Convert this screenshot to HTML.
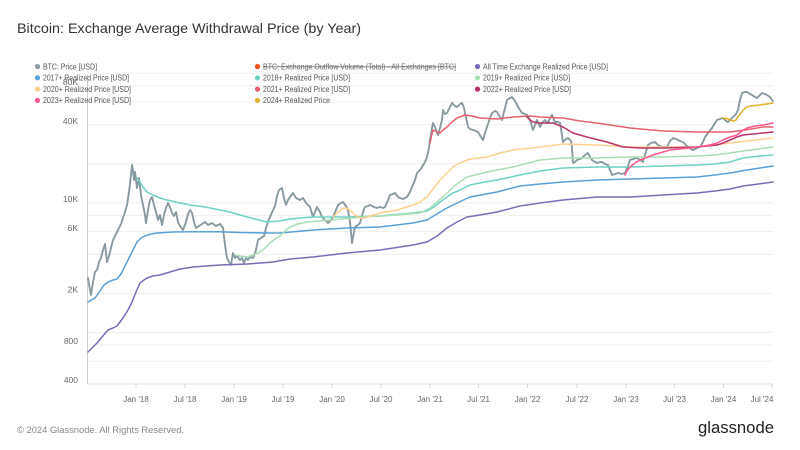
<!DOCTYPE html>
<html>
<head>
<meta charset="utf-8">
<style>
  html,body{margin:0;padding:0;background:#fff;}
  svg{display:block;}
  text{font-family:"Liberation Sans",Arial,sans-serif;}
</style>
</head>
<body>
<svg width="800" height="450" viewBox="0 0 800 450" xmlns="http://www.w3.org/2000/svg">
  <rect x="0" y="0" width="800" height="450" fill="#ffffff"/>

  <!-- Title -->
  <text x="17" y="33" font-size="14" fill="#333" textLength="344" lengthAdjust="spacingAndGlyphs">Bitcoin: Exchange Average Withdrawal Price (by Year)</text>

  <!-- Gridlines -->
  <g stroke="#efefef" stroke-width="1">
    <line x1="88" y1="73.2" x2="773" y2="73.2"/>
    <line x1="88" y1="85.8" x2="773" y2="85.8"/>
    <line x1="88" y1="102" x2="773" y2="102"/>
    <line x1="88" y1="124.8" x2="773" y2="124.8"/>
    <line x1="88" y1="163.8" x2="773" y2="163.8"/>
    <line x1="88" y1="202.8" x2="773" y2="202.8"/>
    <line x1="88" y1="215.4" x2="773" y2="215.4"/>
    <line x1="88" y1="231.6" x2="773" y2="231.6"/>
    <line x1="88" y1="254.4" x2="773" y2="254.4"/>
    <line x1="88" y1="293.4" x2="773" y2="293.4"/>
    <line x1="88" y1="332.4" x2="773" y2="332.4"/>
    <line x1="88" y1="345" x2="773" y2="345"/>
    <line x1="88" y1="361.2" x2="773" y2="361.2"/>
  </g>

  <!-- Axes -->
  <line x1="87.5" y1="75" x2="87.5" y2="384" stroke="#d0d0d0" stroke-width="1"/>
  <line x1="87.5" y1="384" x2="773" y2="384" stroke="#e3e3e3" stroke-width="1"/>
  <g stroke="#d8d8d8" stroke-width="1">
    <line x1="136" y1="384" x2="136" y2="388"/>
    <line x1="185" y1="384" x2="185" y2="388"/>
    <line x1="234" y1="384" x2="234" y2="388"/>
    <line x1="283" y1="384" x2="283" y2="388"/>
    <line x1="332" y1="384" x2="332" y2="388"/>
    <line x1="381" y1="384" x2="381" y2="388"/>
    <line x1="430" y1="384" x2="430" y2="388"/>
    <line x1="478.5" y1="384" x2="478.5" y2="388"/>
    <line x1="527.5" y1="384" x2="527.5" y2="388"/>
    <line x1="577" y1="384" x2="577" y2="388"/>
    <line x1="626" y1="384" x2="626" y2="388"/>
    <line x1="674.5" y1="384" x2="674.5" y2="388"/>
    <line x1="723.5" y1="384" x2="723.5" y2="388"/>
    <line x1="772" y1="384" x2="772" y2="388"/>
  </g>

  <!-- Y labels -->
  <g font-size="8.5" fill="#666" text-anchor="end">
    <text x="78" y="85">80K</text>
    <text x="78" y="124">40K</text>
    <text x="78" y="202">10K</text>
    <text x="78" y="231">6K</text>
    <text x="78" y="292.5">2K</text>
    <text x="78" y="344">800</text>
    <text x="78" y="383">400</text>
  </g>

  <!-- X labels -->
  <g font-size="8" fill="#666" text-anchor="middle">
    <text x="136" y="402">Jan '18</text>
    <text x="185" y="402">Jul '18</text>
    <text x="234" y="402">Jan '19</text>
    <text x="283" y="402">Jul '19</text>
    <text x="332" y="402">Jan '20</text>
    <text x="381" y="402">Jul '20</text>
    <text x="430" y="402">Jan '21</text>
    <text x="478.5" y="402">Jul '21</text>
    <text x="527.5" y="402">Jan '22</text>
    <text x="577" y="402">Jul '22</text>
    <text x="626" y="402">Jan '23</text>
    <text x="674.5" y="402">Jul '23</text>
    <text x="723.5" y="402">Jan '24</text>
    <text x="762" y="402">Jul '24</text>
  </g>

  <!-- Series -->
  <g fill="none" stroke-linejoin="round" stroke-linecap="round">
    <!-- BTC price -->
    <polyline stroke="#889aa0" stroke-width="1.9" points="88,278 90,290 91,295 93,282 95,272 97,270 99,262 101,258 103,250 105,244 107,262 109,256 111,248 113,240 115,236 117,232 119,228 121,224 123,218 125,212 127,205 129,192 131,175 132,165 133,170 134,180 135,172 137,188 139,178 141,195 143,205 145,215 146,223 148,210 150,200 152,197 154,205 156,212 158,220 160,215 162,225 164,215 166,208 168,203 170,207 172,213 174,216 176,212 178,222 180,226 183,230 186,222 188,214 190,210 192,213 194,222 196,228 199,226 202,224 205,222 208,225 212,223 216,226 220,224 223,228 225,245 227,258 229,262 231,265 233,253 235,258 237,256 240,260 242,258 244,263 246,258 248,260 250,257 253,258 256,250 258,240 261,238 264,236 266,228 268,222 270,217 273,210 275,206 277,196 279,190 282,188 284,198 286,205 288,200 290,197 293,193 296,198 300,200 303,198 306,203 310,207 313,217 315,212 317,207 320,212 322,217 325,220 328,223 331,220 333,217 336,210 338,205 341,203 343,202 346,206 348,210 350,222 352,243 354,232 355,227 358,225 360,223 363,212 365,207 368,206 370,205 374,207 377,208 380,207 383,208 385,207 388,200 390,195 393,194 395,193 398,197 400,198 403,199 407,197 410,192 412,187 415,180 417,173 420,170 422,167 425,162 427,157 429,148 430,140 432,128 433,123 435,127 437,133 438,135 440,128 442,120 443,110 445,114 447,113 450,107 452,103 455,106 457,107 460,104 462,103 464,108 465,113 467,122 468,127 470,129 473,130 476,131 478,132 481,137 483,140 485,133 487,127 490,118 492,113 495,111 497,112 500,117 502,120 505,108 507,100 510,98 512,97 515,101 517,105 520,110 522,113 525,114 527,115 530,120 533,130 535,125 537,120 540,127 542,123 545,120 548,123 550,118 552,115 555,122 558,122 560,123 562,135 563,142 566,139 568,138 571,141 572,148 573,163 575,162 577,160 580,159 582,158 585,155 588,153 590,157 592,160 595,162 597,163 600,162 602,162 605,164 608,165 610,170 612,175 615,174 618,173 622,174 625,173 628,166 630,160 633,159 637,158 640,160 643,162 645,155 648,145 651,143 655,142 658,145 662,147 665,147 667,147 670,141 673,138 676,139 680,141 683,142 686,145 688,147 691,149 693,150 697,148 700,147 703,142 705,137 708,133 712,128 715,123 717,120 720,119 723,118 726,121 728,122 731,119 733,117 736,114 738,110 740,100 742,93 745,92 747,92 750,94 752,95 755,97 757,98 760,95 762,93 765,94 767,95 770,97 772,100 773,101"/>

    <!-- All Time Exchange Realized -->
    <polyline stroke="#7b6bb8" stroke-width="1.5" points="88,352 92,348 97,343 102,337 108,330 113,328 117,326 120,322 123,318 128,310 132,302 136,292 140,283 144,280 147,278 153,276 160,275 170,272 180,269 193,267 220,265 247,264 273,262 290,259 313,257 347,253 380,250 413,245 427,242 437,236 447,228 457,222 467,217 480,215 497,212 520,206 540,203 563,200 597,197 630,197 663,195 697,193 715,191 730,189 743,186 773,182"/>

    <!-- 2017+ -->
    <polyline stroke="#5a9fd6" stroke-width="1.5" points="88,302 95,298 100,291 104,285 108,282 113,280 117,279 121,274 125,266 129,258 133,250 137,242 141,238 145,236 151,234 157,233 165,232.5 173,232 190,231.7 220,231.7 240,232.5 267,233 280,233 313,230 347,228 380,227 413,223 427,220 437,214 445,209 453,205 470,197 497,192 520,186 540,184 563,182 597,180 630,179 663,178 697,177 715,175 730,173 747,170 773,166"/>

    <!-- 2018+ -->
    <polyline stroke="#6fd0c3" stroke-width="1.5" points="137,178 140,182 143,187 147,192 153,195 160,198 167,200 180,203 190,205 205,207 220,210 230,212 240,215 255,219 267,222 280,221 287,219.5 300,218 313,217 347,217 380,216 413,213 427,211 434,207 440,202 447,197 453,193 460,190 470,185 485,182 497,180 520,175 540,171 563,168 597,167 630,167 663,166 697,165 715,164 730,162 743,158 760,156 773,155"/>

    <!-- 2019+ -->
    <polyline stroke="#a8deb2" stroke-width="1.5" points="235,255 240,256 247,257 253,255 260,252 265,248 270,243 275,239 280,236 285,231 290,227 298,224 307,222 330,220 363,217 397,215 420,213 430,208 438,201 447,193 457,184 467,177 487,172 513,167 540,160 563,158 597,158 630,157 663,157 697,156 715,155 730,153 743,151 773,147"/>

    <!-- 2020+ -->
    <polyline stroke="#fdd08f" stroke-width="1.5" points="333,217 336,214 338,212 342,209 345,208 348,209 350,210 353,213 355,215 358,217 360,218 364,218 367,217 380,213 397,210 413,205 420,202 427,197 433,189 440,180 447,173 453,167 460,163 470,159 487,157 500,153 513,150 540,147 563,144 597,145 630,147 663,147 697,147 715,145 730,143 747,141 773,138"/>

    <!-- 2021+ -->
    <polyline stroke="#e8606e" stroke-width="1.5" points="430,143 432,134 433,130 435,131 437,132 440,133 443,130 447,127 452,122 457,118 465,115 472,116 480,118 497,119 513,117 530,116 540,117 563,118 580,121 597,123 630,128 663,131 697,132 717,132 730,132 745,130 763,127 773,127"/>

    <!-- 2022+ -->
    <polyline stroke="#b8336a" stroke-width="1.5" points="527,117 530,120 533,122 540,123 553,123 563,127 568,130 573,133 587,137 607,142 623,147 640,148 663,148 697,147 717,145 723,143 730,140 737,137 743,135 763,133 773,132"/>

    <!-- 2023+ -->
    <polyline stroke="#ff5a8c" stroke-width="1.5" points="625,175 627,171 630,167 635,163 640,160 653,155 670,150 690,148 710,145 717,143 723,140 730,137 737,135 742,131 747,128 755,126 763,125 773,123"/>

    <!-- 2024+ -->
    <polyline stroke="#e0b02f" stroke-width="1.5" points="723,118 728,119 733,121 736,120 738,117 741,113 743,110 747,107 750,106 760,105 773,103"/>
  </g>

  <!-- Legend -->
  <g font-size="8" fill="#555">
    <circle cx="37.5" cy="66.5" r="2.6" fill="#8d9da5"/>
    <text x="43" y="69.3" textLength="54" lengthAdjust="spacingAndGlyphs">BTC: Price [USD]</text>
    <circle cx="37.5" cy="77.8" r="2.6" fill="#5a9fd6"/>
    <text x="43" y="80.6" textLength="86" lengthAdjust="spacingAndGlyphs">2017+ Realized Price [USD]</text>
    <circle cx="37.5" cy="89.1" r="2.6" fill="#fdd08f"/>
    <text x="43" y="91.9" textLength="88" lengthAdjust="spacingAndGlyphs">2020+ Realized Price [USD]</text>
    <circle cx="37.5" cy="100.4" r="2.6" fill="#ff5a8c"/>
    <text x="43" y="103.2" textLength="88" lengthAdjust="spacingAndGlyphs">2023+ Realized Price [USD]</text>

    <circle cx="257.5" cy="66.5" r="2.6" fill="#f0531c"/>
    <text x="263" y="69.3" textLength="193" lengthAdjust="spacingAndGlyphs" fill="#666">BTC: Exchange Outflow Volume (Total) - All Exchanges [BTC]</text>
    <line x1="263" y1="66.8" x2="456" y2="66.8" stroke="#777" stroke-width="0.8"/>
    <circle cx="257.5" cy="77.8" r="2.6" fill="#6fd0c3"/>
    <text x="263" y="80.6" textLength="87" lengthAdjust="spacingAndGlyphs">2018+ Realized Price [USD]</text>
    <circle cx="257.5" cy="89.1" r="2.6" fill="#e8606e"/>
    <text x="263" y="91.9" textLength="87" lengthAdjust="spacingAndGlyphs">2021+ Realized Price [USD]</text>
    <circle cx="257.5" cy="100.4" r="2.6" fill="#e0b02f"/>
    <text x="263" y="103.2" textLength="67" lengthAdjust="spacingAndGlyphs">2024+ Realized Price</text>

    <circle cx="477.5" cy="66.5" r="2.6" fill="#7b6bb8"/>
    <text x="483" y="69.3" textLength="125" lengthAdjust="spacingAndGlyphs">All Time Exchange Realized Price [USD]</text>
    <circle cx="477.5" cy="77.8" r="2.6" fill="#a8deb2"/>
    <text x="483" y="80.6" textLength="87" lengthAdjust="spacingAndGlyphs">2019+ Realized Price [USD]</text>
    <circle cx="477.5" cy="89.1" r="2.6" fill="#b8336a"/>
    <text x="483" y="91.9" textLength="88" lengthAdjust="spacingAndGlyphs">2022+ Realized Price [USD]</text>
  </g>

  <!-- Footer -->
  <text x="17" y="433" font-size="9" fill="#888" textLength="167" lengthAdjust="spacingAndGlyphs">© 2024 Glassnode. All Rights Reserved.</text>
  <text x="698" y="433" font-size="16.5" fill="#1e1e1e" textLength="76" lengthAdjust="spacingAndGlyphs">glassnode</text>
</svg>
</body>
</html>
